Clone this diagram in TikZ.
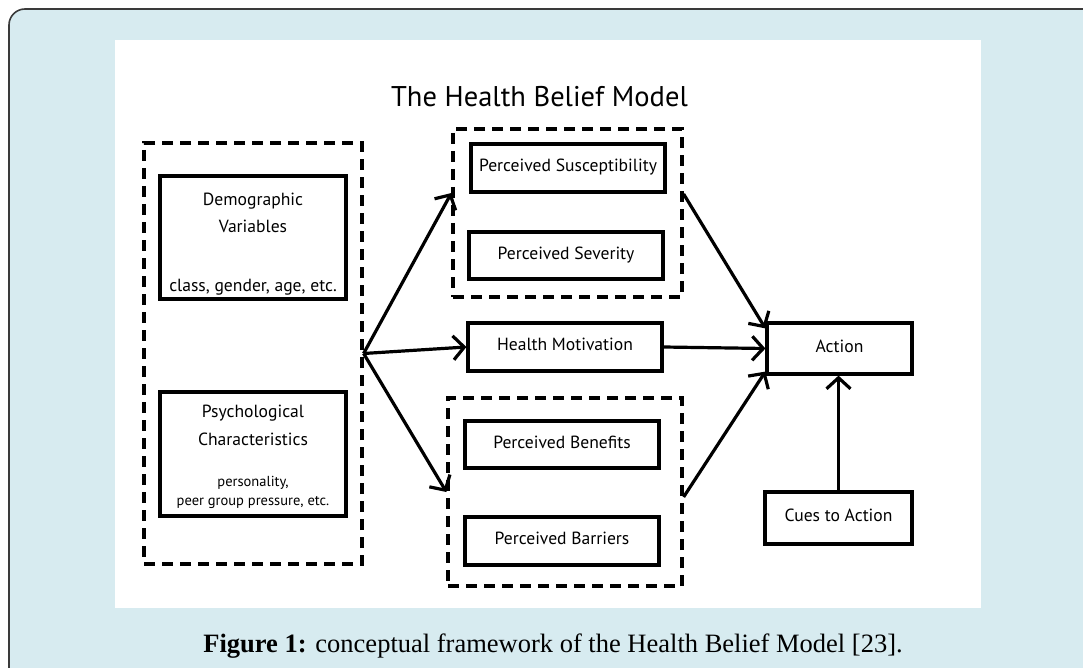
\documentclass[tikz,border=0pt]{standalone}
\usepackage{fontspec}
\setmainfont{Liberation Serif}
\newfontfamily\diagfont{PT Sans}
\usetikzlibrary{arrows.meta}
\definecolor{panelblue}{HTML}{D7EBF0}
\definecolor{framegray}{HTML}{3A3A3A}

\begin{document}
\begin{tikzpicture}[x=1pt,y=-1pt,
  solidbox/.style={draw=black, line width=3.2pt, inner sep=0pt,
    text height=0.7em, text depth=0pt,
    font=\diagfont\fontsize{17.6}{20}\selectfont},
  groupbox/.style={draw=black, line width=3.2pt, inner sep=0pt,
    dash pattern=on 11pt off 7pt},
  lbl/.style={inner sep=0pt, anchor=base, font=\diagfont\fontsize{17.6}{20}\selectfont},
  smalllbl/.style={inner sep=0pt, anchor=base, font=\diagfont\fontsize{14.5}{17}\selectfont},
  conn/.style={line width=3.2pt,
    -{Straight Barb[length=11pt,width=24pt,line width=3.2pt]}}
]
\useasboundingbox (0,0) rectangle (1083,668);
\clip (0,0) rectangle (1083,668);

% page frame and white figure panel
\draw[fill=panelblue, draw=framegray, line width=1.6pt, rounded corners=16pt]
  (9,9) rectangle (1120,700);
\fill[white] (115,40) rectangle (981,608);

% title
\node[inner sep=0pt, anchor=base, font=\diagfont\fontsize{28.5}{32}\selectfont]
  (title) at (539.5,107) {The Health Belief Model};

% modifying factors
\node[groupbox, minimum width=218pt, minimum height=421pt] (modif) at (253,353.5) {};
\node[solidbox, minimum width=186pt, minimum height=123pt] (demo) at (253,237.5) {};
\node[lbl] (demoA) at (253,206) {Demographic};
\node[lbl] (demoB) at (253,233) {Variables};
\node[lbl] (demoC) at (253,291) {class, gender, age, etc.};
\node[solidbox, minimum width=186pt, minimum height=124pt] (psych) at (253,454) {};
\node[lbl] (psychA) at (253,417) {Psychological};
\node[lbl] (psychB) at (253,445) {Characteristics};
\node[smalllbl] (psychC) at (253,486) {personality,};
\node[smalllbl] (psychD) at (253,505) {peer group pressure, etc.};

% perceived threat
\node[groupbox, minimum width=229pt, minimum height=168pt] (threat) at (567.5,213) {};
\node[solidbox, minimum width=194pt, minimum height=48pt] (susc) at (568,168) {Perceived Susceptibility};
\node[solidbox, minimum width=194pt, minimum height=47pt] (sev) at (566,255.5) {Perceived Severity};

% health motivation
\node[solidbox, minimum width=194pt, minimum height=48pt] (motiv) at (565,347) {Health Motivation};

% benefits and barriers
\node[groupbox, minimum width=234pt, minimum height=188pt] (bb) at (565,492) {};
\node[solidbox, minimum width=194pt, minimum height=47pt] (ben) at (562,444.5) {Perceived Benefits};
\node[solidbox, minimum width=194pt, minimum height=48pt] (bar) at (562,541) {Perceived Barriers};

% outcome and cues
\node[solidbox, minimum width=145pt, minimum height=51pt] (action) at (839.5,348.5) {Action};
\node[solidbox, minimum width=147pt, minimum height=52pt] (cues) at (838.5,518) {Cues to Action};

% connectors
\draw[conn] (modif.east) -- ([yshift=20pt]threat.west);
\draw[conn] (modif.east) -- (motiv.west);
\draw[conn] (modif.east) -- (bb.west);
\draw[conn] ([yshift=19pt]threat.east) -- ([yshift=-7pt]action.north west);
\draw[conn] (motiv.east) -- (action.west);
\draw[conn] ([yshift=-5pt]bb.east) -- ([yshift=4pt]action.south west);
\draw[conn] (cues.north) -- (action.south -| cues.north);

% caption
\node[inner sep=0pt, anchor=base, font=\fontsize{26.5}{30}\selectfont]
  (caption) at (553,652) {\textbf{Figure 1:} conceptual framework of the Health Belief Model [23].};
\end{tikzpicture}
\end{document}
